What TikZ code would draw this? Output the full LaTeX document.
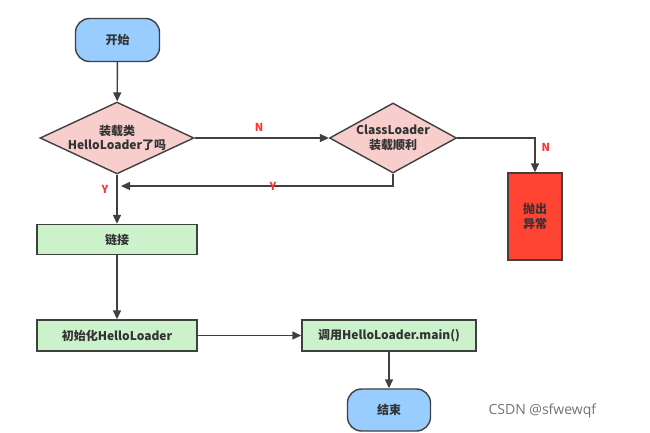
\documentclass[tikz,border=0pt]{standalone}
\usepackage{fontspec}
\setmainfont{Noto Sans CJK SC}
\newfontfamily\wmfont{Open Sans}
\usetikzlibrary{shapes.geometric,shapes.misc,arrows.meta}
\definecolor{lineC}{HTML}{404040}
\definecolor{termC}{HTML}{99CCFF}
\definecolor{decC}{HTML}{F8CECC}
\definecolor{procC}{HTML}{CCF2CC}
\definecolor{errC}{HTML}{FF4433}
\definecolor{txtC}{HTML}{333333}
\definecolor{lblC}{HTML}{FF3333}
\tikzset{
  base/.style={draw=lineC, line width=1.4pt, text=txtC, font=\fontsize{12}{14.5}\selectfont\bfseries, align=center, inner sep=0pt},
  term/.style={base, rectangle, rounded corners=14pt, fill=termC, minimum width=84pt, minimum height=43pt},
  dec/.style={base, diamond, fill=decC},
  proc/.style={base, rectangle, fill=procC},
  errbox/.style={base, rectangle, fill=errC},
  conn/.style={draw=lineC, line width=1.4pt, -{Triangle[length=9pt,width=8pt]}},
  lbl/.style={text=lblC, font=\fontsize{11}{13}\selectfont\bfseries, inner sep=0pt}
}
\begin{document}
\begin{tikzpicture}[x=1pt,y=-1pt]
\useasboundingbox[fill=white] (0,0) rectangle (650,433);
\node[term] (start) at (117.5,40) {开始};
\node[dec, shape aspect=2.14, minimum width=150pt, minimum height=70pt] (d1) at (117,138) {装载类\\HelloLoader了吗};
\node[dec, shape aspect=1.81, minimum width=127pt, minimum height=70pt] (d2) at (393,138) {ClassLoader\\装载顺利};
\node[errbox, minimum width=54pt, minimum height=87pt] (err) at (535,216.5) {抛出\\异常};
\node[proc, minimum width=160pt, minimum height=30pt] (link) at (117,239.5) {链接};
\node[proc, minimum width=160pt, minimum height=31pt] (init) at (117,335.5) {初始化HelloLoader};
\node[proc, minimum width=174pt, minimum height=31pt] (call) at (389,335.5) {调用HelloLoader.main()};
\node[term, minimum width=83pt, minimum height=42pt] (end) at (389,410) {结束};
\coordinate (merge) at (117,186);
\draw[conn] (start) -- (d1);
\draw[conn] (d1) -- node[lbl, above=6pt, pos=0.48] {N} (d2);
\draw[conn] (d2.east) -| node[lbl, pos=0.64, right=6pt] {N} (err.north);
\draw[conn] (d2.south) |- ([xshift=4pt]merge);
\node[lbl] (ylbl2) at (273,186) {Y};
\draw[conn] (d1) -- node[lbl, pos=0.29, left=8pt] {Y} (link);
\draw[conn] (link) -- (init);
\draw[conn] (init) -- (call);
\draw[conn] (call) -- (end);
\node[text=black!55, font=\wmfont\fontsize{14}{16}\selectfont, anchor=west] (wm) at (485,411) {CSDN @sfwewqf};
\end{tikzpicture}
\end{document}
